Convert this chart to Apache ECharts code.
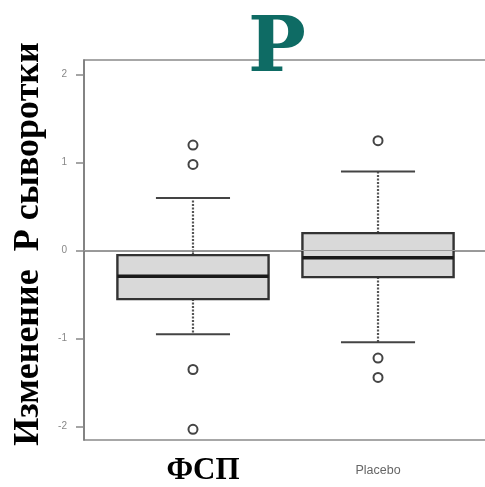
<!DOCTYPE html>
<html>
<head>
<meta charset="utf-8">
<script src="https://cdn.jsdelivr.net/npm/echarts@6/dist/echarts.min.js"></script>
<style>html,body{margin:0;padding:0;background:#fff}#c{width:485px;height:487px}</style>
</head>
<body>
<div id="c"></div>
<script>
// Data
var categories = ['ФСП', 'Placebo'];
var categoryPos = [1, 2];
// [min whisker, Q1, median, Q3, max whisker]
var boxFSP = [-0.95, -0.55, -0.29, -0.05, 0.60];
var boxPlacebo = [-1.04, -0.30, -0.08, 0.20, 0.90];
var outliersFSP = [1.20, 0.98, -1.35, -2.03];
var outliersPlacebo = [1.25, -1.22, -1.44];
var yTicks = [-2, -1, 0, 1, 2];

var boxes = [boxFSP, boxPlacebo];
var boxData = boxes.map(function (b, i) { return [categoryPos[i]].concat(b); });
var outlierData = [];
outliersFSP.forEach(function (v) { outlierData.push([categoryPos[0], v]); });
outliersPlacebo.forEach(function (v) { outlierData.push([categoryPos[1], v]); });

var chart = echarts.init(document.getElementById('c'), null, {renderer: 'canvas'});

function renderBox(params, api) {
  var x = api.value(0);
  var mn = api.coord([x, api.value(1)]);
  var q1 = api.coord([x, api.value(2)]);
  var md = api.coord([x, api.value(3)]);
  var q3 = api.coord([x, api.value(4)]);
  var mx = api.coord([x, api.value(5)]);
  var w = api.size([0.817, 0])[0];
  var cw = w * 0.49;
  var cx = q1[0];
  return {
    type: 'group',
    children: [
      {type: 'line', shape: {x1: cx, y1: q3[1], x2: cx, y2: mx[1]},
        style: {stroke: '#555', lineWidth: 2.2, lineDash: [2, 1.5]}},
      {type: 'line', shape: {x1: cx, y1: q1[1], x2: cx, y2: mn[1]},
        style: {stroke: '#555', lineWidth: 2.2, lineDash: [2, 1.5]}},
      {type: 'line', shape: {x1: cx - cw / 2, y1: mx[1], x2: cx + cw / 2, y2: mx[1]},
        style: {stroke: '#444', lineWidth: 2}},
      {type: 'line', shape: {x1: cx - cw / 2, y1: mn[1], x2: cx + cw / 2, y2: mn[1]},
        style: {stroke: '#444', lineWidth: 2}},
      {type: 'rect', shape: {x: cx - w / 2, y: q3[1], width: w, height: q1[1] - q3[1]},
        style: {fill: '#d9d9d9', stroke: '#333', lineWidth: 2.4}},
      {type: 'line', shape: {x1: cx - w / 2, y1: md[1], x2: cx + w / 2, y2: md[1]},
        style: {stroke: '#1a1a1a', lineWidth: 3.5}}
    ]
  };
}

var option = {
  animation: false,
  title: {
    text: 'P',
    left: 272, top: 7, textAlign: 'center',
    textStyle: {fontFamily: 'DejaVu Serif', fontWeight: 'bold', fontSize: 77, color: '#0e6b64', lineHeight: 77}
  },
  grid: {left: 84, right: -2, top: 60, bottom: 47, outerBoundsMode: 'none', containLabel: false,
    show: true, borderColor: '#8a8a8a', borderWidth: 1.5, backgroundColor: 'transparent'},
  xAxis: {
    type: 'value', min: 0.411, max: 2.589,
    axisLine: {show: true, lineStyle: {color: '#777', width: 1.5}},
    splitLine: {show: false},
    axisTick: {show: true, customValues: categoryPos, length: 6, lineStyle: {color: '#777', width: 1.5}},
    axisLabel: {
      customValues: categoryPos, margin: 13,
      formatter: function (v) {
        var i = categoryPos.indexOf(Math.round(v));
        return i === 0 ? '{a|' + categories[0] + '}' : '{b|' + categories[1] + '}';
      },
      rich: {
        a: {fontFamily: 'Liberation Serif', fontWeight: 'bold', fontSize: 31, color: '#000', lineHeight: 36, padding: [0, 0, 0, 20]},
        b: {fontFamily: 'Liberation Sans', fontSize: 12.5, color: '#666', lineHeight: 36}
      }
    }
  },
  yAxis: {
    type: 'value', min: -2.151, max: 2.167,
    name: 'Изменение  P сыворотки',
    nameLocation: 'middle', nameGap: 37, nameRotate: 90,
    nameTextStyle: {fontFamily: 'Liberation Serif', fontWeight: 'bold', fontSize: 36, color: '#000', padding: [0, 0, 0, 12]},
    axisLine: {show: true, lineStyle: {color: '#777', width: 1.5}},
    splitLine: {show: false},
    axisTick: {show: true, customValues: yTicks, length: 8, lineStyle: {color: '#888', width: 1.5}},
    axisLabel: {customValues: yTicks, margin: 17, fontFamily: 'Liberation Sans', fontSize: 10, color: '#888'}
  },
  series: [
    {
      type: 'custom', renderItem: renderBox, data: boxData, silent: true,
      encode: {x: 0, y: [1, 2, 3, 4, 5]},
      markLine: {silent: true, symbol: 'none', label: {show: false},
        lineStyle: {color: '#9a9a9a', width: 1.2, type: 'solid'},
        data: [{yAxis: 0}]},
      z: 3
    },
    {
      type: 'scatter', data: outlierData, symbol: 'circle', symbolSize: 9,
      itemStyle: {color: '#fff', borderColor: '#444', borderWidth: 2, opacity: 1}, silent: true, z: 4
    }
  ]
};
chart.setOption(option);
</script>
</body>
</html>
